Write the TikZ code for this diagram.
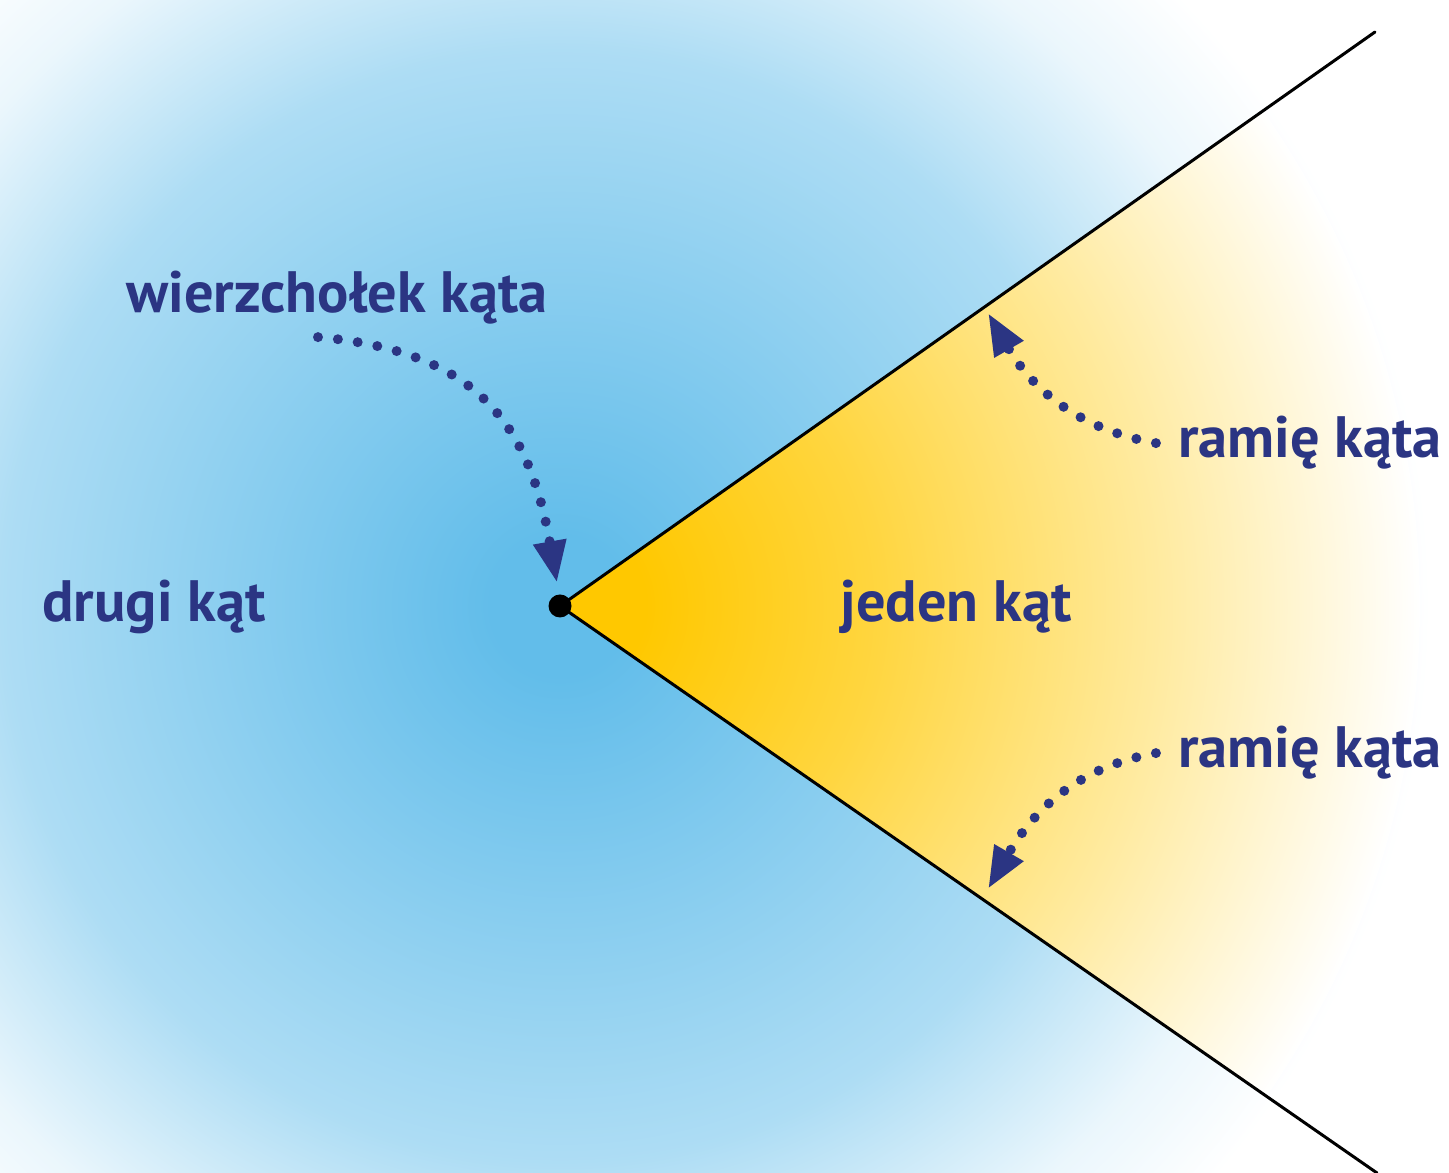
\documentclass[tikz,border=0pt]{standalone}
\usepackage{fontspec}
\setmainfont{PT Sans}
\usetikzlibrary{arrows.meta, calc}

\definecolor{skyblue}{RGB}{98,189,234}
\definecolor{sunyellow}{RGB}{255,200,0}
\definecolor{labelblue}{RGB}{43,53,131}
\colorlet{skyA}{white!19!skyblue}
\colorlet{skyB}{white!48!skyblue}
\colorlet{skyC}{white!87!skyblue}
\colorlet{sunA}{white!25!sunyellow}
\colorlet{sunB}{white!63!sunyellow}

% 25bp is the rim of the shaded circle
\pgfdeclareradialshading{skyglow}{\pgfpoint{0bp}{0bp}}{color(0bp)=(skyblue); color(2bp)=(skyblue); color(7.5bp)=(skyA); color(16bp)=(skyB); color(21.5bp)=(skyC); color(25bp)=(white); color(50bp)=(white)}
\pgfdeclareradialshading{sunglow}{\pgfpoint{0bp}{0bp}}{color(0bp)=(sunyellow); color(2.5bp)=(sunyellow); color(9.25bp)=(sunA); color(17.5bp)=(sunB); color(25bp)=(white); color(50bp)=(white)}

\begin{document}
\begin{tikzpicture}[
    label/.style={font=\bfseries\fontsize{16.6}{20}\selectfont, text=labelblue, anchor=base},
    ray/.style={line width=0.03cm, line cap=round},
    pointer/.style={labelblue, line width=0.1cm, line cap=round, dash pattern=on 0pt off 0.2cm,
      -{Triangle[length=0.42cm, width=0.31cm]}}]
  \useasboundingbox (0,0) rectangle (14.49,11.73);
  \fill[white] (0,0) rectangle (14.49,11.73);

  \coordinate (V) at (5.60,5.67);
  \coordinate (A) at (13.75,11.41);
  \coordinate (B) at (13.77,0);

  % background and the angle
  \begin{scope}
    \clip (0,0) rectangle (14.49,11.73);
    \shade[shading=skyglow] (V) circle (8.7);
    \clip (V) -- ($(V)!1.3!(A)$) -- ($(V)!1.3!(B)$) -- cycle;
    \shade[shading=sunglow] (V) circle (8.6);
  \end{scope}

  \draw[ray] (V) -- (A);
  \draw[ray] (V) -- (B);
  \fill (V) circle (0.115);

  % labels
  \node[label] (wk) at (3.37,8.60) {wierzchołek kąta};
  \node[label] (drugi) at (1.54,5.51) {drugi kąt};
  \node[label] (jeden) at (9.56,5.51) {jeden kąt};
  \node[label] (r1) at (13.10,7.15) {ramię kąta};
  \node[label] (r2) at (13.10,4.05) {ramię kąta};

  \coordinate (tipV) at (5.57,5.90);
  \coordinate (tipA) at (9.88,8.60);
  \coordinate (tipB) at (9.88,2.84);

  \path ([xshift=-1.9mm]wk.south) edge[pointer, out=-5, in=100, looseness=1.2] (tipV)
    ([xshift=-1mm]r1.west) edge[pointer, out=170, in=-60] (tipA)
    ([xshift=-1mm]r2.west) edge[pointer, out=190, in=60] (tipB);
\end{tikzpicture}
\end{document}
